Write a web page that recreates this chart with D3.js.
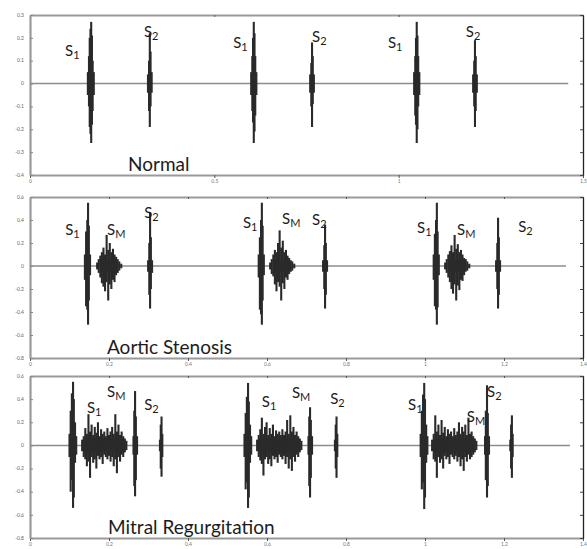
<!DOCTYPE html>
<html>
<head>
    <title>Heart sounds</title>
    <script src="https://cdn.jsdelivr.net/npm/d3@7"></script>
    <style>
        body { margin: 0; background: #fff; }
        text { font-family: Lato, "Open Sans", sans-serif; }
    </style>
</head>
<body>
    <svg width="587" height="549" id="mainsvg"></svg>
    <script>
        // panel titles and axis ticks
        const panelTitles = ['Normal', 'Aortic Stenosis', 'Mitral Regurgitation'];
        const normalYTicks = [0.3, 0.2, 0.1, 0, -0.1, -0.2, -0.3, -0.4];
        const murmurYTicks = [0.6, 0.4, 0.2, 0, -0.2, -0.4, -0.6, -0.8];
        const normalXTicks = [0, 0.5, 1, 1.5];
        const murmurXTicks = [0, 0.2, 0.4, 0.6, 0.8, 1, 1.2, 1.4];
        const recordLength = [1.46, 1.357, 1.367];

        // waveform read as vertical strokes: [time, max, min]
        const normalStrokes = [
            [0.157, 0.05, -0.05], [0.160, 0.12, -0.10], [0.162, 0.20, -0.19], [0.164, 0.24, -0.22],
            [0.166, 0.27, -0.26], [0.168, 0.21, -0.18], [0.170, 0.10, -0.12], [0.173, 0.05, -0.05],
            [0.320, 0.04, -0.04], [0.323, 0.10, -0.12], [0.325, 0.22, -0.19], [0.327, 0.14, -0.10], [0.330, 0.05, -0.04],
            [0.600, 0.05, -0.05], [0.603, 0.12, -0.12], [0.605, 0.20, -0.17], [0.607, 0.27, -0.26],
            [0.609, 0.22, -0.21], [0.611, 0.12, -0.14], [0.614, 0.05, -0.05],
            [0.760, 0.04, -0.04], [0.763, 0.09, -0.10], [0.765, 0.18, -0.19], [0.767, 0.12, -0.09], [0.770, 0.04, -0.04],
            [1.042, 0.05, -0.05], [1.045, 0.12, -0.14], [1.047, 0.20, -0.18], [1.049, 0.27, -0.26],
            [1.051, 0.21, -0.20], [1.053, 0.12, -0.10], [1.056, 0.05, -0.05],
            [1.202, 0.04, -0.04], [1.205, 0.10, -0.10], [1.207, 0.19, -0.19], [1.209, 0.12, -0.12], [1.212, 0.04, -0.04]
        ];
        const aorticStrokes = [
            [0.139, 0.10, -0.12], [0.142, 0.30, -0.35], [0.145, 0.40, -0.38], [0.147, 0.55, -0.51], [0.149, 0.35, -0.30], [0.152, 0.10, -0.08],
            [0.170, 0.03, -0.03], [0.174, 0.06, -0.06], [0.178, 0.09, -0.10], [0.182, 0.12, -0.15], [0.186, 0.16, -0.18],
            [0.190, 0.10, -0.22], [0.194, 0.27, -0.14], [0.198, 0.14, -0.30], [0.202, 0.20, -0.16], [0.206, 0.12, -0.20],
            [0.210, 0.15, -0.12], [0.214, 0.10, -0.14], [0.218, 0.08, -0.08], [0.222, 0.06, -0.06], [0.226, 0.04, -0.04], [0.231, 0.02, -0.02],
            [0.299, 0.05, -0.05], [0.302, 0.20, -0.25], [0.304, 0.47, -0.37], [0.306, 0.25, -0.20], [0.309, 0.05, -0.06],
            [0.579, 0.10, -0.10], [0.582, 0.25, -0.38], [0.585, 0.40, -0.42], [0.587, 0.55, -0.51], [0.589, 0.35, -0.30], [0.592, 0.10, -0.08],
            [0.608, 0.03, -0.03], [0.612, 0.06, -0.07], [0.616, 0.10, -0.09], [0.620, 0.14, -0.16], [0.624, 0.12, -0.22],
            [0.628, 0.20, -0.14], [0.632, 0.31, -0.18], [0.636, 0.16, -0.30], [0.640, 0.22, -0.15], [0.644, 0.12, -0.20],
            [0.648, 0.14, -0.10], [0.652, 0.09, -0.12], [0.656, 0.07, -0.07], [0.660, 0.05, -0.05], [0.664, 0.04, -0.04], [0.669, 0.02, -0.02],
            [0.742, 0.05, -0.05], [0.745, 0.18, -0.20], [0.747, 0.36, -0.37], [0.749, 0.20, -0.25], [0.752, 0.05, -0.05],
            [1.022, 0.10, -0.12], [1.025, 0.28, -0.35], [1.028, 0.40, -0.38], [1.030, 0.55, -0.51], [1.032, 0.30, -0.36], [1.035, 0.10, -0.08],
            [1.051, 0.03, -0.03], [1.055, 0.06, -0.06], [1.059, 0.10, -0.10], [1.063, 0.13, -0.14], [1.067, 0.18, -0.20],
            [1.071, 0.12, -0.24], [1.075, 0.27, -0.16], [1.079, 0.15, -0.30], [1.083, 0.19, -0.17], [1.087, 0.12, -0.21],
            [1.091, 0.14, -0.12], [1.095, 0.10, -0.13], [1.099, 0.07, -0.08], [1.103, 0.06, -0.05], [1.107, 0.04, -0.04], [1.112, 0.02, -0.02],
            [1.180, 0.05, -0.05], [1.183, 0.20, -0.20], [1.185, 0.42, -0.37], [1.187, 0.25, -0.25], [1.190, 0.05, -0.05]
        ];
        const mitralStrokes = [
            [0.100, 0.10, -0.10], [0.103, 0.30, -0.40], [0.106, 0.45, -0.30], [0.109, 0.55, -0.54], [0.111, 0.40, -0.45], [0.114, 0.20, -0.15], [0.117, 0.08, -0.08],
            [0.132, 0.05, -0.05], [0.136, 0.08, -0.10], [0.140, 0.15, -0.12], [0.144, 0.10, -0.18], [0.148, 0.27, -0.14],
            [0.152, 0.12, -0.28], [0.156, 0.18, -0.10], [0.160, 0.09, -0.15], [0.164, 0.16, -0.12], [0.168, 0.11, -0.20],
            [0.172, 0.20, -0.09], [0.176, 0.08, -0.12], [0.180, 0.14, -0.10], [0.184, 0.10, -0.16], [0.188, 0.12, -0.08],
            [0.192, 0.08, -0.10], [0.196, 0.15, -0.12], [0.200, 0.09, -0.09], [0.204, 0.12, -0.14], [0.208, 0.16, -0.10],
            [0.212, 0.10, -0.18], [0.216, 0.27, -0.12], [0.220, 0.12, -0.24], [0.224, 0.18, -0.10], [0.228, 0.09, -0.14],
            [0.232, 0.12, -0.08], [0.236, 0.08, -0.10], [0.240, 0.06, -0.06], [0.244, 0.04, -0.04],
            [0.262, 0.08, -0.08], [0.264, 0.30, -0.35], [0.266, 0.47, -0.44], [0.268, 0.25, -0.30], [0.271, 0.08, -0.08],
            [0.329, 0.05, -0.05], [0.331, 0.18, -0.20], [0.333, 0.25, -0.27], [0.335, 0.10, -0.10],
            [0.543, 0.10, -0.10], [0.546, 0.28, -0.38], [0.549, 0.42, -0.32], [0.552, 0.54, -0.54], [0.554, 0.38, -0.45], [0.557, 0.18, -0.15], [0.560, 0.08, -0.08],
            [0.575, 0.05, -0.05], [0.579, 0.09, -0.10], [0.583, 0.14, -0.13], [0.587, 0.24, -0.16], [0.591, 0.10, -0.26],
            [0.595, 0.16, -0.12], [0.599, 0.20, -0.10], [0.603, 0.09, -0.16], [0.607, 0.15, -0.12], [0.611, 0.10, -0.18],
            [0.615, 0.18, -0.09], [0.619, 0.08, -0.12], [0.623, 0.13, -0.10], [0.627, 0.10, -0.15], [0.631, 0.12, -0.08],
            [0.635, 0.09, -0.10], [0.639, 0.14, -0.12], [0.643, 0.09, -0.09], [0.647, 0.12, -0.16], [0.651, 0.22, -0.10],
            [0.655, 0.10, -0.20], [0.659, 0.26, -0.12], [0.663, 0.12, -0.22], [0.667, 0.16, -0.10], [0.671, 0.09, -0.14],
            [0.675, 0.12, -0.08], [0.679, 0.08, -0.10], [0.683, 0.06, -0.06], [0.687, 0.04, -0.04],
            [0.705, 0.08, -0.08], [0.707, 0.25, -0.35], [0.709, 0.33, -0.45], [0.711, 0.22, -0.28], [0.714, 0.08, -0.08],
            [0.772, 0.05, -0.05], [0.774, 0.18, -0.20], [0.776, 0.25, -0.28], [0.778, 0.10, -0.10],
            [0.989, 0.10, -0.10], [0.992, 0.30, -0.38], [0.995, 0.44, -0.32], [0.998, 0.54, -0.55], [1.000, 0.40, -0.45], [1.003, 0.18, -0.15], [1.006, 0.08, -0.08],
            [1.018, 0.05, -0.05], [1.022, 0.10, -0.12], [1.026, 0.26, -0.14], [1.030, 0.12, -0.28], [1.034, 0.18, -0.10],
            [1.038, 0.09, -0.15], [1.042, 0.22, -0.12], [1.046, 0.11, -0.20], [1.050, 0.16, -0.09], [1.054, 0.08, -0.12],
            [1.058, 0.14, -0.10], [1.062, 0.10, -0.16], [1.066, 0.12, -0.08], [1.070, 0.08, -0.10], [1.074, 0.15, -0.12],
            [1.078, 0.09, -0.09], [1.082, 0.12, -0.14], [1.086, 0.20, -0.10], [1.090, 0.10, -0.18], [1.094, 0.16, -0.12],
            [1.098, 0.12, -0.22], [1.102, 0.18, -0.10], [1.106, 0.09, -0.14], [1.110, 0.24, -0.08], [1.114, 0.10, -0.12],
            [1.118, 0.12, -0.10], [1.122, 0.08, -0.08], [1.126, 0.06, -0.06], [1.130, 0.04, -0.04],
            [1.152, 0.08, -0.08], [1.154, 0.30, -0.30], [1.157, 0.52, -0.45], [1.159, 0.28, -0.35], [1.162, 0.08, -0.08],
            [1.216, 0.05, -0.05], [1.218, 0.18, -0.20], [1.220, 0.26, -0.28], [1.222, 0.10, -0.10]
        ];
        // dense murmur core: [start, end, amplitude]
        const aorticCores = [[0.178, 0.222, 0.05], [0.616, 0.660, 0.05], [1.059, 1.103, 0.05]];
        const mitralCores = [[0.134, 0.242, 0.06], [0.577, 0.685, 0.06], [1.020, 1.128, 0.06]];

        // sound labels: [time, value, sub]
        const normalLabels = [
            [0.095, 0.119, '1'], [0.309, 0.203, '2'], [0.551, 0.154, '1'],
            [0.765, 0.181, '2'], [0.971, 0.154, '1'], [1.182, 0.203, '2']
        ];
        const aorticLabels = [
            [0.089, 0.270, '1'], [0.195, 0.270, 'M'], [0.289, 0.417, '2'],
            [0.539, 0.330, '1'], [0.638, 0.365, 'M'], [0.714, 0.357, '2'],
            [0.980, 0.287, '1'], [1.081, 0.270, 'M'], [1.236, 0.296, '2']
        ];
        const mitralLabels = [
            [0.144, 0.278, '1'], [0.195, 0.417, 'M'], [0.289, 0.304, '2'],
            [0.587, 0.330, '1'], [0.663, 0.409, 'M'], [0.760, 0.357, '2'],
            [0.957, 0.304, '1'], [1.106, 0.200, 'M'], [1.157, 0.417, '2']
        ];

        const svg = d3.select('svg');
        const left = 30, right = 583;

        const panels = [
            { top: 15, bottom: 175, yTicks: normalYTicks, xTicks: normalXTicks, strokes: normalStrokes, cores: [], labels: normalLabels, titleX: 128 },
            { top: 197, bottom: 358, yTicks: murmurYTicks, xTicks: murmurXTicks, strokes: aorticStrokes, cores: aorticCores, labels: aorticLabels, titleX: 107 },
            { top: 376, bottom: 538, yTicks: murmurYTicks, xTicks: murmurXTicks, strokes: mitralStrokes, cores: mitralCores, labels: mitralLabels, titleX: 108 }
        ];

        panels.forEach((p, i) => {
            const g = svg.append('g');
            const x = d3.scaleLinear().domain(d3.extent(p.xTicks)).range([left, right]);
            const y = d3.scaleLinear().domain(d3.extent(p.yTicks)).range([p.bottom, p.top]);

            // top and bottom frame
            const topAxis = g.append('g').attr('transform', `translate(0,${p.top})`)
                .call(d3.axisBottom(x).tickValues(p.xTicks).tickSize(2).tickSizeOuter(0).tickFormat(''));
            const botAxis = g.append('g').attr('transform', `translate(0,${p.bottom})`)
                .call(d3.axisBottom(x).tickValues(p.xTicks).tickSize(3).tickSizeOuter(0).tickFormat(d => String(d)));
            [topAxis, botAxis].forEach(a => {
                a.select('.domain').attr('stroke', '#9a9a9a').attr('stroke-width', 2);
                a.selectAll('.tick line').attr('stroke', '#555');
                a.selectAll('.tick text').attr('fill', '#777').attr('font-size', 5).attr('dy', '0.3em');
            });

            // left axis
            const leftAxis = g.append('g').attr('transform', `translate(${left},0)`)
                .call(d3.axisRight(y).tickValues(p.yTicks).tickSize(3).tickSizeOuter(0).tickFormat(''));
            leftAxis.select('.domain').attr('stroke', '#9a9a9a').attr('stroke-width', 2.2);
            leftAxis.selectAll('.tick line').attr('stroke', '#888');
            g.append('g').selectAll('text').data(p.yTicks).join('text')
                .attr('x', left - 6).attr('y', d => y(d)).attr('dy', '0.35em')
                .attr('text-anchor', 'end').attr('font-size', 5).attr('fill', '#666')
                .text(d => String(d));

            // right axis
            const rightAxis = g.append('g').attr('transform', `translate(${right},0)`)
                .call(d3.axisLeft(y).tickValues(p.yTicks).tickSize(3).tickSizeOuter(0).tickFormat(''));
            rightAxis.select('.domain').attr('stroke', '#222').attr('stroke-width', 1.3);
            rightAxis.selectAll('.tick line').attr('stroke', '#444');

            // zero line
            g.append('line')
                .attr('x1', x(0)).attr('x2', x(recordLength[i]))
                .attr('y1', y(0)).attr('y2', y(0))
                .attr('stroke', '#8c8c8c').attr('stroke-width', 1.6);

            // murmur core
            g.append('g').selectAll('rect').data(p.cores).join('rect')
                .attr('x', d => x(d[0])).attr('width', d => x(d[1]) - x(d[0]))
                .attr('y', d => y(d[2])).attr('height', d => y(-d[2]) - y(d[2]))
                .attr('rx', 3)
                .attr('fill', '#3c3c3c');

            // waveform strokes
            g.append('g').selectAll('line').data(p.strokes).join('line')
                .attr('x1', d => x(d[0])).attr('x2', d => x(d[0]))
                .attr('y1', d => y(d[1])).attr('y2', d => y(d[2]))
                .attr('stroke', '#2a2a2a').attr('stroke-width', 2.1);

            // S labels
            const lab = g.append('g').selectAll('text').data(p.labels).join('text')
                .attr('x', d => x(d[0])).attr('y', d => y(d[1]))
                .attr('font-size', 15).attr('fill', '#1c1c1c');
            lab.append('tspan').text('S');
            lab.append('tspan').attr('font-size', 11).attr('dy', 3).text(d => d[2]);

            // title
            g.append('text')
                .attr('x', p.titleX).attr('y', p.bottom - 4)
                .attr('font-size', 19).attr('fill', '#1c1c1c')
                .text(panelTitles[i]);
        });
    </script>
</body>
</html>
